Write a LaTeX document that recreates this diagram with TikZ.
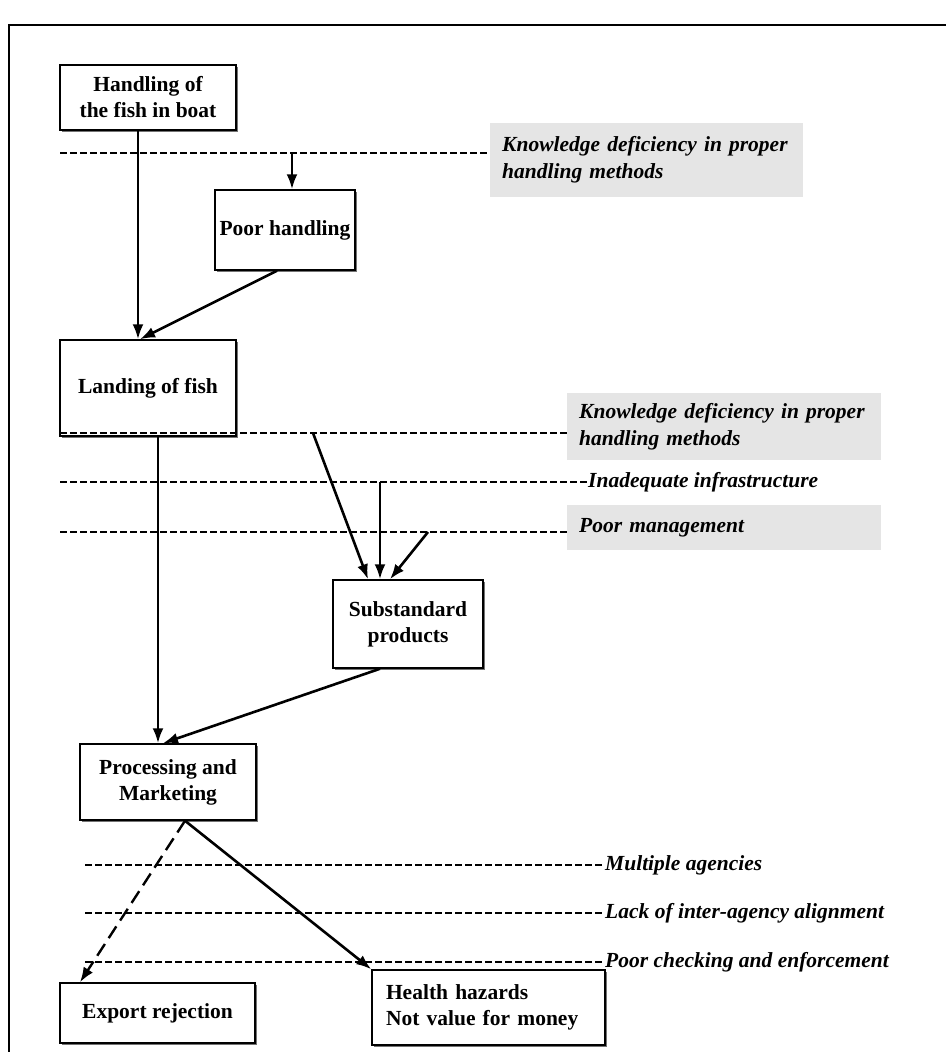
\documentclass[tikz,border=0pt]{standalone}
\usepackage{fontspec}
\setmainfont{Liberation Serif}
\usetikzlibrary{arrows.meta,shadows}
\begin{document}
\begin{tikzpicture}[x=1pt,y=-1pt,
  box/.style={draw, line width=1.5pt, fill=white, inner sep=0pt,
    font=\bfseries\fontsize{21.5}{26}\selectfont, align=center,
    drop shadow={shadow xshift=2pt, shadow yshift=-2pt, fill=black!55, opacity=1}},
  gbox/.style={fill=black!10, inner xsep=12pt, inner ysep=0pt, anchor=north west,
    font=\bfseries\itshape\fontsize{21.5}{27}\selectfont, align=left},
  lbl/.style={inner sep=0pt, anchor=west, font=\bfseries\itshape\fontsize{21.5}{27}\selectfont},
  arr/.style={line width=2.6pt, -{Latex[length=15pt,width=11pt]}},
  darr/.style={line width=2.4pt, dash pattern=on 14pt off 7pt, -{Latex[length=15pt,width=11pt]}},
  dl/.style={line width=2.2pt, dash pattern=on 6.5pt off 3.5pt}]
\useasboundingbox (0,0) rectangle (946,1052);
\draw[line width=1.5pt] (9,1052) -- (9,25) -- (946,25);

% boxes
\node[box, minimum width=176pt, minimum height=65pt] (hb) at (148,97.5) {Handling of\\the fish in boat};
\node[box, minimum width=140pt, minimum height=80pt] (ph) at (285,230) {Poor handling};
\node[box, minimum width=176pt, minimum height=96pt] (lf) at (148,388) {Landing of fish};
\node[box, minimum width=150pt, minimum height=88pt] (ss) at (408,624) {Substandard\\products};
\node[box, minimum width=176pt, minimum height=76pt] (pm) at (168,782) {Processing and\\Marketing};
\node[box, minimum width=195pt, minimum height=60pt] (er) at (157.5,1013) {Export rejection};
\node[box, minimum width=233pt, minimum height=75pt, text width=205pt, align=left] (hh) at (488.5,1007.5) {Health hazards\\Not value for money};

% grey cause boxes
\node[gbox, text width=289pt, minimum height=74pt] (g1) at (490,123) {Knowledge deficiency in proper\\handling methods};
\node[gbox, text width=290pt, minimum height=67pt] (g2) at (567,393) {Knowledge deficiency in proper\\handling methods};
\node[gbox, text width=290pt, minimum height=45pt] (g3) at (567,505) {Poor management};
\node[lbl] (ia) at (588,482) {Inadequate infrastructure};
\node[lbl] (ma) at (605,865) {Multiple agencies};
\node[lbl] (la) at (605,913) {Lack of inter-agency alignment};
\node[lbl] (pc) at (605,962) {Poor checking and enforcement};

% dashed cause lines
\coordinate (d1) at (60,153);
\coordinate (d2) at (60,433);
\coordinate (d3) at (60,482);
\coordinate (d4) at (60,532);
\coordinate (d5) at (85,865);
\coordinate (d6) at (85,913);
\coordinate (d7) at (85,962);
\draw[dl] (d1) -- (d1 -| g1.west);
\draw[dl] (d2) -- (d2 -| g2.west);
\draw[dl] (d3) -- (ia.west);
\draw[dl] (d4) -- (d4 -| g3.west);
\draw[dl] (d5) -- (ma.west);
\draw[dl] (d6) -- (la.west);
\draw[dl] (d7) -- (pc.west);

% tap points on dashed lines
\coordinate (k1) at (292,153);
\coordinate (k2) at (313,433);
\coordinate (k3) at (380,482);
\coordinate (k4) at (428,532);

% arrows
\draw[arr] ([xshift=-10pt]hb.south) -- ([xshift=-10pt]lf.north);
\draw[arr] (k1) -- (k1 |- ph.north);
\draw[arr] ([xshift=-8pt]ph.south) -- ([xshift=-8pt]lf.north);
\draw[arr] ([xshift=10pt]lf.south) -- ([xshift=-10pt]pm.north);
\draw[arr] ([xshift=-28pt]ss.south) -- ([xshift=-5pt]pm.north);
\draw[arr] (k2) -- ([xshift=-40pt]ss.north);
\draw[arr] (k3) -- ([xshift=-28pt]ss.north);
\draw[arr] (k4) -- ([xshift=-18pt]ss.north);
\draw[darr] ([xshift=17pt]pm.south) -- ([xshift=-77.5pt]er.north);
\draw[arr] ([xshift=17pt]pm.south) -- (hh.north west);
\end{tikzpicture}
\end{document}
